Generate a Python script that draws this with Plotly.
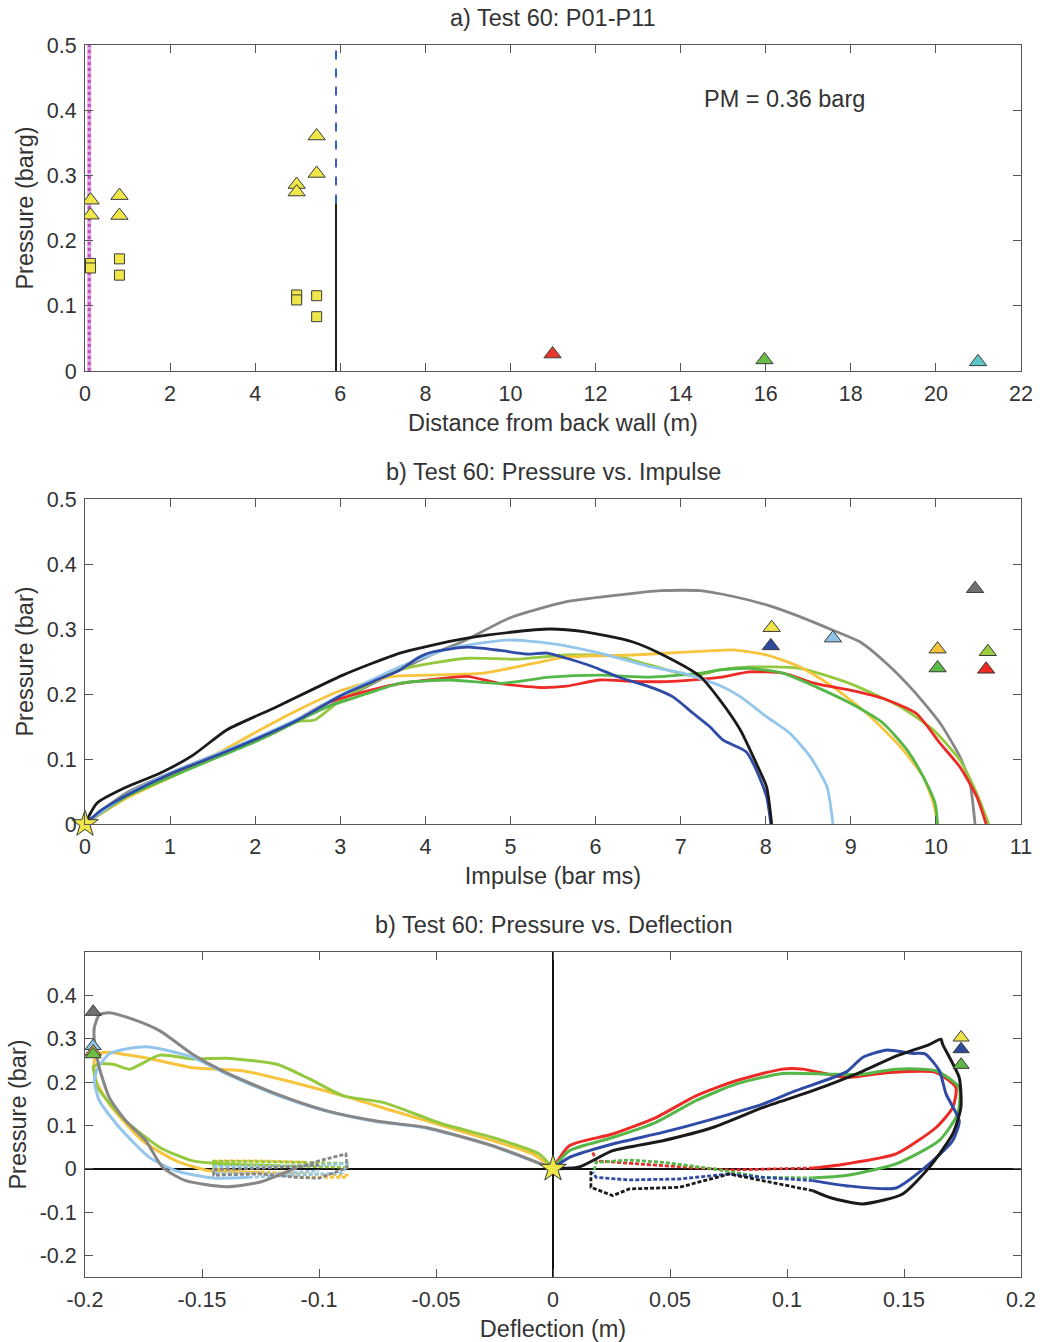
import plotly.graph_objects as go

# ---------------- Panel a data ----------------
tri_x = [0.13, 0.13, 0.81, 0.81, 4.975, 4.975, 5.445, 5.445]
tri_y = [0.262, 0.239, 0.269, 0.2385, 0.286, 0.2745, 0.3604, 0.303]
sq_x = [0.13, 0.13, 0.81, 0.81, 4.975, 4.975, 5.445, 5.445]
sq_y = [0.165, 0.158, 0.172, 0.147, 0.1166, 0.109, 0.1155, 0.0833]
far_x = [10.99, 15.97, 20.99]
far_y = [0.026, 0.017, 0.014]
far_colors = ["#E8372B", "#6CBD45", "#5CC6C4"]
vent_x = [0.10]
door_x = [5.90]
door_split = 0.257
pm_text = "PM = 0.36 barg"

# ---------------- Panel b data (Pressure vs Impulse) ----------------
b_black_x = [0, 0.14, 0.49, 0.88, 1.27, 1.67, 2.25, 3.03, 3.70, 4.01, 4.49, 5.0, 5.46, 5.86, 6.44, 6.84, 7.23, 7.46, 7.70, 7.89, 8.01, 8.07]
b_black_y = [0, 0.032, 0.057, 0.078, 0.106, 0.145, 0.18, 0.229, 0.263, 0.273, 0.286, 0.295, 0.300, 0.296, 0.28, 0.257, 0.227, 0.191, 0.145, 0.093, 0.057, 0.0]
b_blue_x = [0, 0.2, 0.5, 1.0, 1.5, 2.0, 2.5, 3.0, 3.4, 3.7, 3.93, 4.09, 4.49, 4.88, 5.19, 5.43, 5.66, 5.97, 6.25, 6.68, 6.91, 7.15, 7.34, 7.50, 7.77, 7.89, 8.01, 8.06]
b_blue_y = [0, 0.022, 0.045, 0.077, 0.103, 0.13, 0.16, 0.197, 0.22, 0.237, 0.257, 0.265, 0.272, 0.267, 0.2615, 0.263, 0.255, 0.242, 0.227, 0.209, 0.1955, 0.170, 0.150, 0.129, 0.111, 0.083, 0.042, 0.0]
b_lblue_x = [0, 0.5, 1.0, 1.5, 2.0, 2.5, 3.0, 3.70, 4.29, 4.96, 5.46, 6.05, 6.64, 7.03, 7.46, 7.70, 8.01, 8.28, 8.52, 8.72, 8.79]
b_lblue_y = [0, 0.046, 0.078, 0.105, 0.132, 0.162, 0.198, 0.242, 0.270, 0.283, 0.278, 0.263, 0.242, 0.232, 0.213, 0.196, 0.165, 0.140, 0.104, 0.057, 0.0]
b_gray_x = [0, 0.49, 1.27, 2.06, 2.84, 3.62, 4.1, 4.49, 4.99, 5.66, 6.25, 6.76, 7.23, 7.62, 8.01, 8.40, 8.79, 9.11, 9.42, 9.73, 10.05, 10.28, 10.40, 10.46]
b_gray_y = [0, 0.048, 0.093, 0.134, 0.18, 0.232, 0.262, 0.284, 0.317, 0.342, 0.352, 0.359, 0.359, 0.350, 0.337, 0.319, 0.298, 0.280, 0.247, 0.206, 0.155, 0.104, 0.063, 0.0]
b_yellow_x = [0, 0.49, 1.27, 2.06, 2.45, 3.0, 3.62, 4.01, 4.68, 5.27, 5.66, 6.44, 7.0, 7.46, 7.62, 8.01, 8.40, 8.79, 9.19, 9.58, 9.85, 9.97, 10.02]
b_yellow_y = [0, 0.040, 0.088, 0.145, 0.172, 0.205, 0.227, 0.229, 0.232, 0.247, 0.257, 0.260, 0.264, 0.267, 0.268, 0.260, 0.242, 0.211, 0.170, 0.119, 0.073, 0.032, 0.0]
b_red_x = [0, 0.5, 1.27, 2.25, 2.84, 3.62, 4.2, 4.49, 4.88, 5.35, 5.66, 6.05, 6.44, 6.84, 7.46, 7.81, 8.20, 8.59, 8.99, 9.38, 9.77, 10.05, 10.28, 10.48, 10.59]
b_red_y = [0, 0.045, 0.09, 0.142, 0.186, 0.214, 0.224, 0.227, 0.216, 0.210, 0.212, 0.2215, 0.2195, 0.219, 0.2256, 0.234, 0.232, 0.216, 0.206, 0.193, 0.170, 0.124, 0.088, 0.042, 0.0]
b_green_x = [0, 0.5, 1.27, 2.06, 2.45, 2.84, 3.3, 3.70, 4.29, 4.88, 5.46, 6.05, 6.64, 7.23, 7.46, 7.81, 8.20, 8.59, 8.99, 9.38, 9.66, 9.85, 9.99, 10.02]
b_green_y = [0, 0.043, 0.087, 0.13, 0.155, 0.18, 0.2, 0.2165, 0.2215, 0.2164, 0.226, 0.229, 0.226, 0.232, 0.237, 0.2395, 0.232, 0.211, 0.186, 0.155, 0.114, 0.073, 0.032, 0.0]
b_lgreen_x = [0, 0.5, 1.27, 2.06, 2.5, 2.7, 3.0, 3.70, 4.49, 5.07, 5.66, 6.25, 6.84, 7.15, 7.46, 7.81, 8.40, 8.99, 9.58, 9.97, 10.28, 10.48, 10.62]
b_lgreen_y = [0, 0.043, 0.088, 0.133, 0.158, 0.16, 0.19, 0.237, 0.255, 0.2535, 0.26, 0.258, 0.237, 0.228, 0.237, 0.2415, 0.2395, 0.216, 0.1805, 0.1446, 0.0985, 0.047, 0.0]

b_peak_x = [8.07, 8.06, 8.79, 10.46, 10.02, 10.02, 10.61, 10.59]
b_peak_y = [0.302, 0.274, 0.286, 0.362, 0.269, 0.240, 0.265, 0.238]
b_peak_colors = ["#EEE44A", "#2E4A9E", "#8FC4E8", "#707070", "#F5C33B", "#5DB844", "#9ACD3E", "#EE2A24"]

# ---------------- Panel c data (Pressure vs Deflection) ----------------
c_gray_x = [0, -0.0258, -0.0543, -0.0756, -0.0970, -0.118, -0.140, -0.154, -0.168, -0.1797, -0.1896, -0.1939, -0.196, -0.196, -0.1939, -0.1896, -0.1825, -0.174, -0.1668, -0.157, -0.140, -0.1255, -0.111]
c_gray_y = [0, 0.053, 0.095, 0.11, 0.134, 0.172, 0.222, 0.264, 0.318, 0.345, 0.360, 0.355, 0.326, 0.295, 0.233, 0.164, 0.110, 0.0645, 0.003, -0.0276, -0.0415, -0.0315, -0.001]
c_gray_dx = [-0.111, -0.100, -0.0885, -0.0880, -0.100, -0.110, -0.125, -0.145, -0.145, -0.130, -0.115, -0.100]
c_gray_dy = [-0.001, 0.018, 0.034, 0.002, -0.022, -0.020, -0.012, -0.015, -0.002, 0.0, 0.004, 0.008]

c_lblue_x = [0, -0.0258, -0.0543, -0.0756, -0.097, -0.118, -0.140, -0.154, -0.1725, -0.1825, -0.1896, -0.1945, -0.196, -0.1939, -0.1853, -0.1725, -0.161, -0.1455, -0.130]
c_lblue_y = [0, 0.052, 0.094, 0.109, 0.133, 0.17, 0.22, 0.257, 0.281, 0.276, 0.265, 0.233, 0.203, 0.157, 0.095, 0.026, -0.005, -0.0215, -0.020]
c_lblue_dx = [-0.130, -0.110, -0.090, -0.088, -0.100, -0.120, -0.145, -0.145, -0.120, -0.100]
c_lblue_dy = [-0.020, -0.015, -0.010, 0.012, 0.008, 0.005, 0.005, -0.010, -0.012, -0.005]

c_yellow_x = [0, -0.0087, -0.040, -0.0685, -0.0896, -0.111, -0.1326, -0.154, -0.1754, -0.1925, -0.196, -0.1953, -0.1896, -0.1754, -0.161, -0.1469, -0.125]
c_yellow_y = [0, 0.034, 0.0876, 0.1336, 0.168, 0.199, 0.226, 0.233, 0.257, 0.268, 0.25, 0.203, 0.149, 0.0645, 0.018, -0.005, -0.008]
c_yellow_dx = [-0.125, -0.105, -0.088, -0.088, -0.105, -0.125, -0.145, -0.145, -0.125, -0.105]
c_yellow_dy = [-0.008, -0.012, -0.015, -0.020, -0.020, -0.012, 0.0, 0.018, 0.018, 0.015]

c_lgreen_x = [0, -0.0059, -0.0258, -0.0472, -0.0727, -0.0896, -0.104, -0.118, -0.140, -0.154, -0.168, -0.181, -0.188, -0.1939, -0.1965, -0.196, -0.1946, -0.1825, -0.168, -0.154, -0.140, -0.118]
c_lgreen_y = [0, 0.034, 0.072, 0.103, 0.153, 0.168, 0.207, 0.241, 0.255, 0.253, 0.262, 0.2297, 0.241, 0.242, 0.235, 0.22, 0.187, 0.110, 0.049, 0.018, 0.011, 0.007]
c_lgreen_dx = [-0.118, -0.100, -0.088, -0.088, -0.110, -0.130, -0.145, -0.145, -0.120]
c_lgreen_dy = [0.007, 0.005, 0.003, 0.012, 0.015, 0.017, 0.017, 0.008, 0.008]

c_red_x = [0, 0.007, 0.0255, 0.044, 0.0611, 0.0782, 0.0981, 0.1066, 0.1252, 0.1437, 0.1637, 0.1722, 0.1708, 0.1637, 0.1466, 0.1252, 0.111]
c_red_y = [0, 0.053, 0.080, 0.118, 0.168, 0.203, 0.2297, 0.2297, 0.2104, 0.222, 0.222, 0.187, 0.141, 0.095, 0.034, 0.011, 0.0015]
c_red_dx = [0.111, 0.0753, 0.0469, 0.0184, 0.017]
c_red_dy = [0.0015, -0.003, 0.007, 0.018, 0.0376]

c_green_x = [0, 0.007, 0.0255, 0.044, 0.0611, 0.0782, 0.0981, 0.118, 0.1323, 0.1466, 0.1637, 0.1736, 0.1729, 0.165, 0.1466, 0.1252, 0.111]
c_green_y = [0, 0.0415, 0.072, 0.107, 0.157, 0.195, 0.2197, 0.218, 0.218, 0.2297, 0.226, 0.187, 0.126, 0.0645, 0.011, -0.016, -0.0215]
c_green_dx = [0.111, 0.0896, 0.0682, 0.0469, 0.0326, 0.0184, 0.0176]
c_green_dy = [-0.0215, -0.020, 0.0, 0.0146, 0.020, 0.0146, -0.0046]

c_blue_x = [0, 0.007, 0.0255, 0.0469, 0.0682, 0.0896, 0.1038, 0.1252, 0.1323, 0.1423, 0.1537, 0.159, 0.1651, 0.168, 0.1736, 0.1708, 0.1608, 0.1466, 0.1252, 0.111]
c_blue_y = [0, 0.026, 0.057, 0.0837, 0.1144, 0.149, 0.18, 0.2227, 0.2565, 0.2735, 0.266, 0.265, 0.226, 0.172, 0.1106, 0.0645, 0.011, -0.0445, -0.0392, -0.0276]
c_blue_dx = [0.111, 0.0896, 0.0753, 0.054, 0.0326, 0.0184, 0.017]
c_blue_dy = [-0.0276, -0.020, -0.0123, -0.0238, -0.026, -0.020, -0.0084]

c_black_x = [0, 0.0112, 0.0255, 0.0469, 0.0682, 0.0896, 0.111, 0.1323, 0.1466, 0.1608, 0.1658, 0.1665, 0.1736, 0.1743, 0.1708, 0.1608, 0.1494, 0.1323, 0.118, 0.111]
c_black_y = [0, 0.004, 0.0415, 0.0645, 0.095, 0.141, 0.18, 0.2247, 0.2596, 0.2865, 0.2988, 0.287, 0.21, 0.141, 0.08, 0.003, -0.0584, -0.0814, -0.066, -0.0507]
c_black_dx = [0.111, 0.0896, 0.0753, 0.054, 0.0326, 0.0255, 0.0162, 0.0162]
c_black_dy = [-0.0507, -0.0276, -0.0123, -0.043, -0.0468, -0.0622, -0.043, -0.005]

c_peak_x = [-0.1965, -0.1965, -0.1965, -0.1965, 0.1744, 0.1744, 0.1744]
c_peak_y = [0.362, 0.283, 0.270, 0.264, 0.3026, 0.2757, 0.2396]
c_peak_colors = ["#707070", "#8FC4E8", "#F5C33B", "#6DBE45", "#EEE44A", "#2E4A9E", "#5DB844"]

x_c_ticks = [-0.2, -0.15, -0.1, -0.05, 0, 0.05, 0.1, 0.15, 0.2]
x_c_labels = ["-0.2", "-0.15", "-0.1", "-0.05", "0", "0.05", "0.1", "0.15", "0.2"]
y_c_ticks = [-0.2, -0.1, 0, 0.1, 0.2, 0.3, 0.4]
y_c_labels = ["-0.2", "-0.1", "0", "0.1", "0.2", "0.3", "0.4"]

# ---------------- colours ----------------
COL = dict(black="#1A1A1A", blue="#2F4BA6", lblue="#94C6EC", gray="#868686",
           yellow="#F7C43E", red="#EC2B26", green="#55B748", lgreen="#93C83F")
YEL = "#EFE64A"
EDGE = "#3A3A3A"

fig = go.Figure()

# ----- Panel a -----
fig.add_trace(go.Scatter(x=[vent_x[0], vent_x[0]], y=[0, 0.5], mode="lines",
                         line=dict(color="#E6A8E6", width=4), xaxis="x", yaxis="y", showlegend=False))
fig.add_trace(go.Scatter(x=[vent_x[0], vent_x[0]], y=[0, 0.5], mode="lines",
                         line=dict(color="#C24FC2", width=3, dash="dot"), xaxis="x", yaxis="y", showlegend=False))
fig.add_trace(go.Scatter(x=[door_x[0], door_x[0]], y=[door_split, 0.5], mode="lines",
                         line=dict(color="#3A5BC8", width=2, dash="dash"), xaxis="x", yaxis="y", showlegend=False))
fig.add_trace(go.Scatter(x=[door_x[0], door_x[0]], y=[0, door_split], mode="lines",
                         line=dict(color="#222222", width=2), xaxis="x", yaxis="y", showlegend=False))
fig.add_trace(go.Scatter(x=sq_x, y=sq_y, mode="markers",
                         marker=dict(symbol="square", size=10, color=YEL, line=dict(color=EDGE, width=1)),
                         xaxis="x", yaxis="y", showlegend=False))
fig.add_trace(go.Scatter(x=tri_x, y=tri_y, mode="markers",
                         marker=dict(symbol="triangle-up", size=15, color=YEL, line=dict(color=EDGE, width=1)),
                         xaxis="x", yaxis="y", showlegend=False))
fig.add_trace(go.Scatter(x=far_x, y=far_y, mode="markers",
                         marker=dict(symbol="triangle-up", size=15, color=far_colors, line=dict(color=EDGE, width=1)),
                         xaxis="x", yaxis="y", showlegend=False))

# ----- Panel b -----
b_series = [
    (b_gray_x, b_gray_y, COL["gray"]),
    (b_lgreen_x, b_lgreen_y, COL["lgreen"]),
    (b_yellow_x, b_yellow_y, COL["yellow"]),
    (b_red_x, b_red_y, COL["red"]),
    (b_green_x, b_green_y, COL["green"]),
    (b_lblue_x, b_lblue_y, COL["lblue"]),
    (b_blue_x, b_blue_y, COL["blue"]),
    (b_black_x, b_black_y, COL["black"]),
]
for xs, ys, c in b_series:
    fig.add_trace(go.Scatter(x=xs, y=ys, mode="lines", line=dict(color=c, width=2.8, shape="spline", smoothing=0.6),
                             xaxis="x2", yaxis="y2", showlegend=False))
fig.add_trace(go.Scatter(x=b_peak_x, y=b_peak_y, mode="markers",
                         marker=dict(symbol="triangle-up", size=15, color=b_peak_colors, line=dict(color=EDGE, width=1)),
                         xaxis="x2", yaxis="y2", showlegend=False))
fig.add_trace(go.Scatter(x=[0], y=[0], mode="markers",
                         marker=dict(symbol="star", size=20, color=YEL, line=dict(color=EDGE, width=1)),
                         xaxis="x2", yaxis="y2", showlegend=False, cliponaxis=False))

# ----- Panel c -----
c_series = [
    (c_yellow_x, c_yellow_y, c_yellow_dx, c_yellow_dy, COL["yellow"]),
    (c_lgreen_x, c_lgreen_y, c_lgreen_dx, c_lgreen_dy, COL["lgreen"]),
    (c_lblue_x, c_lblue_y, c_lblue_dx, c_lblue_dy, COL["lblue"]),
    (c_gray_x, c_gray_y, c_gray_dx, c_gray_dy, COL["gray"]),
    (c_red_x, c_red_y, c_red_dx, c_red_dy, COL["red"]),
    (c_green_x, c_green_y, c_green_dx, c_green_dy, COL["green"]),
    (c_blue_x, c_blue_y, c_blue_dx, c_blue_dy, COL["blue"]),
    (c_black_x, c_black_y, c_black_dx, c_black_dy, COL["black"]),
]
for xs, ys, dxs, dys, c in c_series:
    fig.add_trace(go.Scatter(x=dxs, y=dys, mode="lines", line=dict(color=c, width=2.8, dash="4px,2px"),
                             xaxis="x3", yaxis="y3", showlegend=False))
    fig.add_trace(go.Scatter(x=xs, y=ys, mode="lines", line=dict(color=c, width=3, shape="spline", smoothing=0.6),
                             xaxis="x3", yaxis="y3", showlegend=False))
fig.add_trace(go.Scatter(x=c_peak_x, y=c_peak_y, mode="markers",
                         marker=dict(symbol="triangle-up", size=14, color=c_peak_colors, line=dict(color=EDGE, width=1)),
                         xaxis="x3", yaxis="y3", showlegend=False, cliponaxis=False))
fig.add_trace(go.Scatter(x=[0], y=[0], mode="markers",
                         marker=dict(symbol="star", size=20, color=YEL, line=dict(color=EDGE, width=1)),
                         xaxis="x3", yaxis="y3", showlegend=False))

# ---------------- layout ----------------
FONT = "Liberation Sans, Arial, sans-serif"
TICKFONT = dict(family=FONT, size=21.5, color="#333333")
TITLEFONT = dict(family=FONT, size=23.5, color="#333333")

def ax(**kw):
    d = dict(showline=True, linecolor="#555555", linewidth=1, mirror="ticks", ticks="inside",
             ticklen=8, tickcolor="#555555", showgrid=False, zeroline=False, tickfont=TICKFONT,
             ticklabelstandoff=3, automargin=False)
    d.update(kw)
    return d

H_TOP, H_BOT, R_M = 45, 65, 19
PLOT_H = 1342 - H_TOP - H_BOT
BOT_PX = 1342 - H_BOT

def dom(top_px, bot_px):
    return [(BOT_PX - bot_px) / PLOT_H, (BOT_PX - top_px) / PLOT_H]

def py(px):
    return (BOT_PX - px) / PLOT_H

fig.update_layout(
    template="none",
    width=1040, height=1342,
    margin=dict(l=85, r=R_M, t=H_TOP, b=H_BOT, autoexpand=False),
    paper_bgcolor="white", plot_bgcolor="white",
    font=dict(family=FONT, color="#333333"),
    xaxis=ax(domain=[0, 1], range=[0, 22], tickvals=list(range(0, 23, 2)), anchor="y",
             title=dict(text="Distance from back wall (m)", font=TITLEFONT, standoff=9)),
    yaxis=ax(domain=dom(45, 371), range=[0, 0.5], tickvals=[0, 0.1, 0.2, 0.3, 0.4, 0.5],
             ticktext=["0", "0.1", "0.2", "0.3", "0.4", "0.5"], anchor="x",
             title=dict(text="Pressure (barg)", font=TITLEFONT, standoff=6)),
    xaxis2=ax(domain=[0, 1], range=[0, 11], tickvals=list(range(0, 12)), anchor="y2",
              title=dict(text="Impulse (bar ms)", font=TITLEFONT, standoff=9)),
    yaxis2=ax(domain=dom(499, 824), range=[0, 0.5], tickvals=[0, 0.1, 0.2, 0.3, 0.4, 0.5],
              ticktext=["0", "0.1", "0.2", "0.3", "0.4", "0.5"], anchor="x2",
              title=dict(text="Pressure (bar)", font=TITLEFONT, standoff=6)),
    xaxis3=ax(domain=[0, 1], range=[-0.2, 0.2], tickvals=x_c_ticks, ticktext=x_c_labels, anchor="y3",
              zeroline=True, zerolinecolor="#111111", zerolinewidth=1.5,
              title=dict(text="Deflection (m)", font=TITLEFONT, standoff=9)),
    yaxis3=ax(domain=dom(952, 1277), range=[-0.25, 0.5], tickvals=y_c_ticks, ticktext=y_c_labels, anchor="x3",
              zeroline=True, zerolinecolor="#111111", zerolinewidth=1.5,
              title=dict(text="Pressure (bar)", font=TITLEFONT, standoff=6)),
    annotations=[
        dict(text="a) Test 60: P01-P11", x=0.5, y=py(18), xref="paper", yref="paper",
             showarrow=False, font=TITLEFONT, xanchor="center", yanchor="middle"),
        dict(text="b) Test 60: Pressure vs. Impulse", x=0.5, y=py(472), xref="paper", yref="paper",
             showarrow=False, font=TITLEFONT, xanchor="center", yanchor="middle"),
        dict(text="b) Test 60: Pressure vs. Deflection", x=0.5, y=py(925), xref="paper", yref="paper",
             showarrow=False, font=TITLEFONT, xanchor="center", yanchor="middle"),
        dict(text=pm_text, x=16.45, y=0.417, xref="x", yref="y", showarrow=False,
             font=TITLEFONT, xanchor="center", yanchor="middle"),
    ],
)

fig.write_html("out.html")
